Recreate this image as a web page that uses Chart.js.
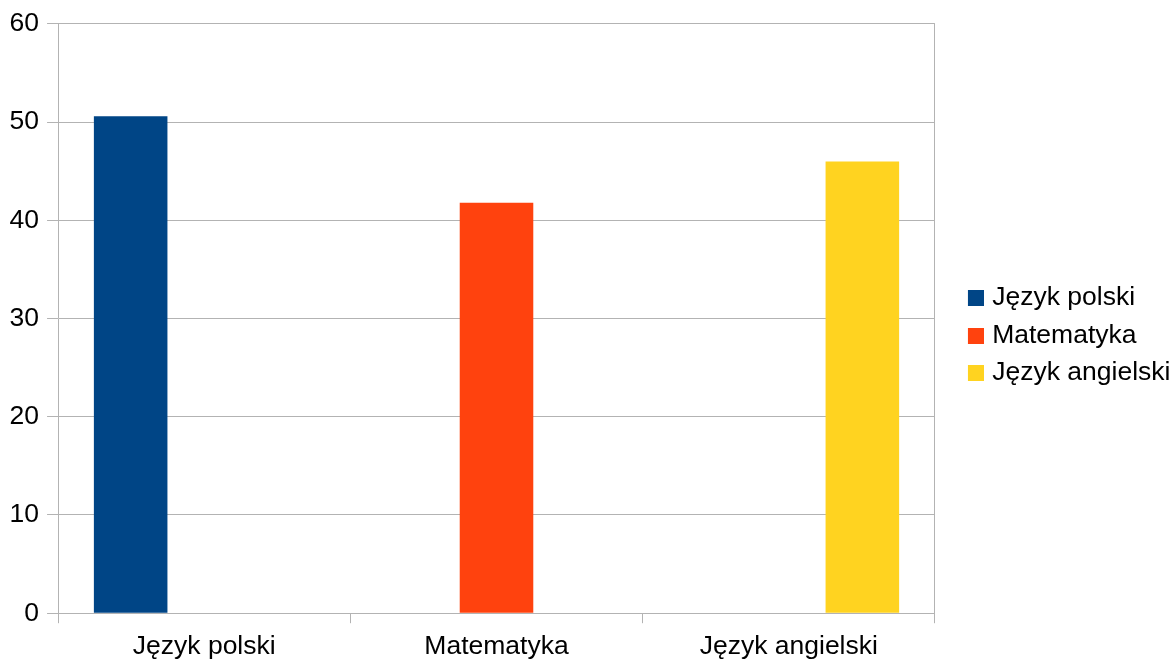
<!DOCTYPE html>
<html>
<head>
<meta charset="utf-8">
<script src="https://cdn.jsdelivr.net/npm/chart.js@4.4.0/dist/chart.umd.min.js"></script>
<style>
  html, body { margin: 0; padding: 0; background: #ffffff; }
  #wrap { width: 1173px; height: 660px; position: relative; }
</style>
</head>
<body>
<div id="wrap"><canvas id="c"></canvas></div>
<script>
const categories = ["Język polski", "Matematyka", "Język angielski"];
const seriesNames = ["Język polski", "Matematyka", "Język angielski"];
const values = [50.6, 41.8, 46.0];
const yTicks = [0, 10, 20, 30, 40, 50, 60];
const colors = ["#004586", "#ff420e", "#ffd320"];

const gridColor = "#b3b3b3";
const font = { family: "'Liberation Sans', Arial, sans-serif", size: 26.5 };

// legend swatch: 16x16 square on the right side of a transparent canvas
function swatch(color) {
  const cv = document.createElement("canvas");
  cv.width = 43; cv.height = 16;
  const g = cv.getContext("2d");
  g.fillStyle = color;
  g.fillRect(27, 0, 16, 16);
  return cv;
}

const datasets = seriesNames.map((name, i) => ({
  label: name,
  data: categories.map((c, j) => (j === i ? values[i] : null)),
  backgroundColor: colors[i],
  borderWidth: 0,
  pointStyle: swatch(colors[i]),
  categoryPercentage: 0.755,
  barPercentage: 1.0
}));

new Chart(document.getElementById("c"), {
  type: "bar",
  data: { labels: categories, datasets },
  options: {
    responsive: true,
    maintainAspectRatio: false,
    animation: false,
    layout: { padding: { top: 0, left: 1.6, right: -7.4, bottom: -11 } },
    plugins: {
      tooltip: { enabled: false },
      legend: {
        position: "right",
        labels: {
          color: "#000",
          font: font,
          usePointStyle: true,
          pointStyleWidth: 33,
          boxHeight: 16,
          padding: 11
        }
      }
    },
    scales: {
      x: {
        grid: {
          display: true,
          drawOnChartArea: true,
          drawTicks: true,
          tickLength: 10,
          offset: true,
          color: (ctx) => (ctx.type === "tick" ? "rgba(0,0,0,0)" : gridColor),
          tickColor: gridColor
        },
        border: { display: true, color: gridColor },
        ticks: { color: "#000", font: font, padding: 8, maxRotation: 0, autoSkip: false }
      },
      y: {
        min: 0, max: 60,
        afterBuildTicks: (s) => { s.ticks = yTicks.map(v => ({ value: v })); },
        grid: { color: gridColor, tickLength: 11 },
        border: { display: true, color: gridColor },
        ticks: { color: "#000", font: font, padding: 8 }
      }
    }
  }
});
</script>
</body>
</html>
